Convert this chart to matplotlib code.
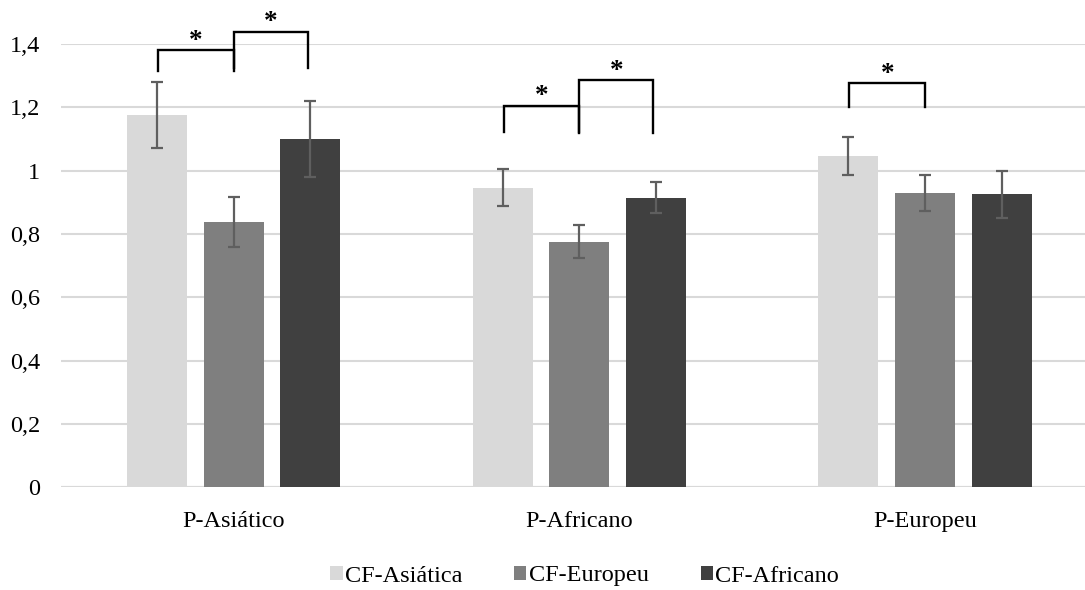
import matplotlib
matplotlib.use("Agg")
import matplotlib.pyplot as plt
import numpy as np

categories = ["P-Asiático", "P-Africano", "P-Europeu"]
series_names = ["CF-Asiática", "CF-Europeu", "CF-Africano"]
cf_asiatica = [1.176, 0.946, 1.047]
cf_asiatica_err = [0.105, 0.058, 0.060]
cf_europeu = [0.838, 0.776, 0.929]
cf_europeu_err = [0.078, 0.052, 0.056]
cf_africano = [1.099, 0.915, 0.925]
cf_africano_err = [0.120, 0.050, 0.073]
yticks = [0, 0.2, 0.4, 0.6, 0.8, 1.0, 1.2, 1.4]
ytick_labels = ["0", "0,2", "0,4", "0,6", "0,8", "1", "1,2", "1,4"]
# significance brackets: (category index, bar a, bar b, bracket top, leg bottom)
sig_group = [0, 0, 1, 1, 2]
sig_a = [0, 1, 0, 1, 0]
sig_b = [1, 2, 1, 2, 1]
sig_top = [1.380, 1.439, 1.205, 1.286, 1.276]
sig_bottom = [1.316, 1.323, 1.123, 1.120, 1.202]

colors = ["#D9D9D9", "#7F7F7F", "#404040"]
values = [cf_asiatica, cf_europeu, cf_africano]
errors = [cf_asiatica_err, cf_europeu_err, cf_africano_err]

plt.rcParams["font.family"] = ["Liberation Serif", "DejaVu Serif"]
FS = 17.5

fig = plt.figure(figsize=(10.85, 5.90), dpi=100)
ax = fig.add_axes([61 / 1085, (590 - 487.3) / 590, 1 - 61 / 1085, (487.3 - 44) / 590])

x = np.arange(len(categories))
pitch = 0.2216
width = 0.1736
for k in range(3):
    ax.bar(x + (k - 1) * pitch, values[k], width, color=colors[k], label=series_names[k],
           zorder=3, yerr=errors[k],
           error_kw=dict(ecolor="#5F5F5F", elinewidth=1.6, capsize=4.5, capthick=1.6, zorder=4))

ax.set_xlim(-0.5, 2.463)
ax.set_ylim(0, 1.4)
ax.set_yticks(yticks)
ax.set_yticklabels(ytick_labels, fontsize=FS)
ax.set_xticks(x)
ax.set_xticklabels(categories, fontsize=FS)
ax.tick_params(axis="both", length=0)
ax.tick_params(axis="y", pad=15)
ax.tick_params(axis="x", pad=17)
ax.yaxis.grid(True, color="#D9D9D9", linewidth=1.5, zorder=0)
ax.set_axisbelow(True)
for s in ax.spines.values():
    s.set_visible(False)
ax.axhline(0, color="#D9D9D9", linewidth=1.5, zorder=1)

for g, a, b, top, bot in zip(sig_group, sig_a, sig_b, sig_top, sig_bottom):
    xa = g + (a - 1) * pitch + (0.0 if a == 1 else 0.003)
    xb = g + (b - 1) * pitch - (0.0 if b == 1 else 0.008)
    ax.plot([xa, xa, xb, xb], [bot, top, top, bot], color="black", linewidth=1.7,
            clip_on=False, zorder=5, solid_joinstyle="miter")
    ax.text((xa + xb) / 2, top + 0.028, "*", ha="center", va="center", fontsize=FS + 2,
            fontweight="bold", clip_on=False, zorder=5)

leg = fig.legend(loc="center", bbox_to_anchor=(0.539, 1 - 576 / 590), ncol=3, frameon=False,
                 fontsize=FS, handlelength=0.5, handleheight=0.5, handletextpad=0.11,
                 columnspacing=2.12)

fig.savefig("out.png", dpi=100, facecolor="white")
